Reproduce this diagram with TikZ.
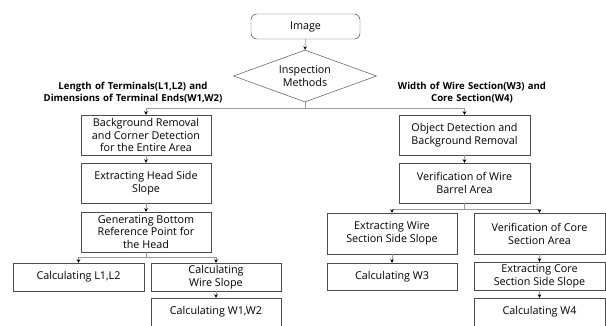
\documentclass[tikz,border=0pt]{standalone}
\usepackage{fontspec}
\setmainfont{Open Sans}
\usepackage{tikz}
\usetikzlibrary{shapes.geometric}
\usetikzlibrary{arrows.meta}
\usetikzlibrary{calc}
\tikzset{mybox/.style={draw=black!70, fill=white, minimum width=3.9cm, minimum height=1.2cm, align=center, inner sep=1pt, font=\fontsize{9.2}{11}\selectfont}}
\tikzset{myboxLow/.style={mybox, minimum height=0.84cm}}
\tikzset{myboxTop/.style={mybox, rounded corners=5pt, minimum width=3.27cm, minimum height=0.75cm}}
\tikzset{myboxDec/.style={draw=black!70, diamond, aspect=2.75, minimum width=4.29cm, minimum height=1.56cm, inner sep=0pt, align=center, font=\fontsize{9.2}{11}\selectfont}}
\tikzset{myline/.style={draw=black!40, line width=0.5pt}}
\tikzset{myarrow/.style={myline, -{Stealth[length=3pt, width=3pt, color=black]}}}
\tikzset{mylabel/.style={text width=6.5cm, align=center, inner sep=0pt, font=\fontsize{8.2}{10.2}\selectfont\bfseries}}

\begin{document}
\begin{tikzpicture}[x=0.03cm, y=-0.03cm]

\useasboundingbox (0,0) rectangle (606,325);

\node[myboxTop] (image) at (305.5, 26.5) {Image};
\node[myboxDec] (methods) at (305, 76) {Inspection\\Methods};

\node[mylabel] (lenlabel) at (133, 93) {Length of Terminals(L1,L2) and\\Dimensions of Terminal Ends(W1,W2)};
\node[mylabel] (widlabel) at (472, 93) {Width of Wire Section(W3) and\\Core Section(W4)};

\node[mybox] (bgremove) at (146, 135) {Background Removal\\and Corner Detection\\for the Entire Area};
\node[mybox] (headslope) at (146, 183) {Extracting Head Side\\Slope};
\node[mybox] (refpoint) at (146, 232) {Generating Bottom\\Reference Point for\\the Head};
\node[myboxLow, minimum width=3.93cm] (calcL) at (78.5, 277) {Calculating L1,L2};
\node[myboxLow] (wireslope) at (216, 277) {Calculating\\Wire Slope};
\node[myboxLow] (calcW12) at (216, 312) {Calculating W1,W2};

\node[mybox, minimum width=3.93cm] (objdetect) at (464.5, 135) {Object Detection and\\Background Removal};
\node[mybox, minimum width=3.93cm] (barrel) at (464.5, 183) {Verification of Wire\\Barrel Area};
\node[mybox, minimum height=1.23cm] (wireside) at (392, 233.5) {Extracting Wire\\Section Side Slope};
\node[mybox, minimum width=3.93cm, minimum height=1.23cm] (corearea) at (539.5, 233.5) {Verification of Core\\Section Area};
\node[myboxLow, minimum height=0.81cm] (calcW3) at (392, 276.5) {Calculating W3};
\node[myboxLow, minimum width=3.93cm] (coreside) at (539.5, 276) {Extracting Core\\Section Side Slope};
\node[myboxLow, minimum width=3.93cm] (calcW4) at (539.5, 312) {Calculating W4};

\draw[myarrow] (image.south) -- (methods.north);
\draw[myline] (methods.south) -- ++(0,6) coordinate (split);
\draw[myarrow] (split) -| (bgremove.north);
\draw[myarrow] (split) -| (objdetect.north);

\draw[myarrow] (bgremove.south) -- (headslope.north);
\draw[myarrow] (headslope.south) -- (refpoint.north);
\draw[myline] (refpoint.south) -- ++(0,5) coordinate (lsplit);
\draw[myarrow] (lsplit) -| (calcL.north);
\draw[myarrow] (lsplit) -| (wireslope.north);
\draw[myarrow] (wireslope.south) -- (calcW12.north);

\draw[myarrow] (objdetect.south) -- (barrel.north);
\draw[myline] (barrel.south) -- ++(0,6) coordinate (rsplit);
\draw[myarrow] (rsplit) -| (wireside.north);
\draw[myarrow] (rsplit) -| (corearea.north);
\draw[myarrow] (wireside.south) -- (calcW3.north);
\draw[myarrow] (corearea.south) -- (coreside.north);
\draw[myarrow] (coreside.south) -- (calcW4.north);

\end{tikzpicture}
\end{document}
